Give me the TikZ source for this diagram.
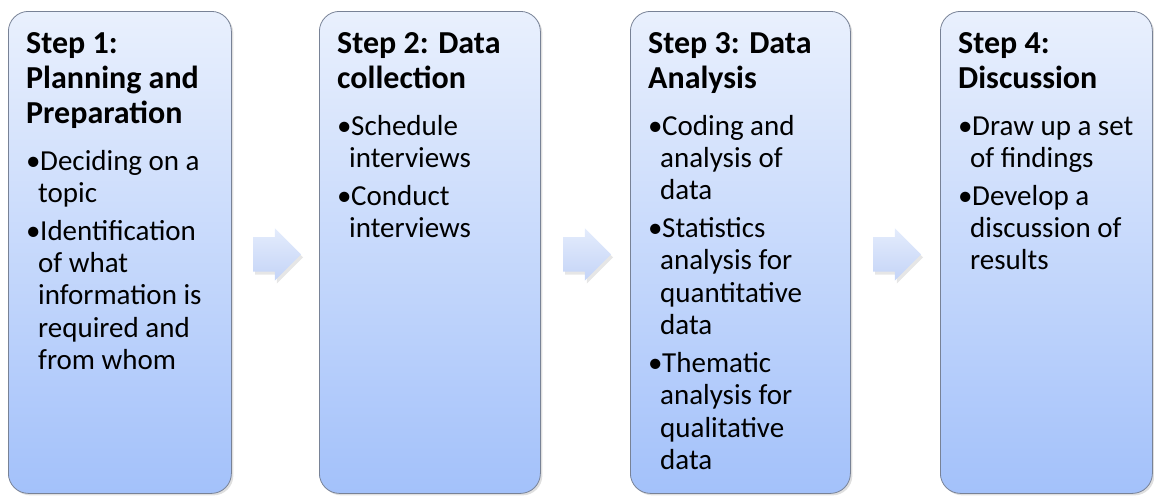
\documentclass[tikz,border=0pt]{standalone}
\usepackage{fontspec}
\setmainfont{Carlito}
\usetikzlibrary{shapes.arrows,shadows,calc}

\definecolor{boxtop}{RGB}{233,240,253}
\definecolor{boxbot}{RGB}{163,193,250}
\definecolor{boxline}{RGB}{120,130,150}
\definecolor{arrtop}{RGB}{228,236,252}
\definecolor{arrbot}{RGB}{196,212,247}

% title lines, then the bullet list of one step
\newcommand\steptext[2]{\parbox[t]{215pt}{\raggedright
  \fontsize{32}{35}\selectfont\bfseries #1\par
  \fontsize{29}{32.3}\selectfont\mdseries\vspace{9pt}#2}}
\newcommand\bitem{\par\vspace{5.7pt}\noindent\makebox[14pt][l]{•}}
\newcommand\cont{\\\hspace*{12pt}}

\tikzset{
  stepbox/.style={draw=boxline, line width=0.8pt, rounded corners=20pt,
    top color=boxtop, bottom color=boxbot, minimum height=482pt,
    anchor=north west, inner sep=0pt,
    drop shadow={shadow xshift=2pt, shadow yshift=-2pt, opacity=0.25}},
  steplabel/.style={anchor=base west, inner sep=0pt},
  flowarrow/.style={single arrow, single arrow head extend=9pt,
    inner xsep=0pt, inner ysep=17pt, minimum height=48pt, draw=none,
    anchor=tail, top color=arrtop, bottom color=arrbot,
    drop shadow={shadow xshift=2pt, shadow yshift=-3pt, opacity=0.2}}
}

\begin{document}
\begin{tikzpicture}[x=1pt,y=-1pt]
\useasboundingbox (0,0) rectangle (1154,496);

% the four step boxes
\node[stepbox, minimum width=223pt] (s1) at (8,11) {};
\node[stepbox, minimum width=221pt] (s2) at (319,11) {};
\node[stepbox, minimum width=220pt] (s3) at (630,11) {};
\node[stepbox, minimum width=212pt] (s4) at (940,11) {};

% their texts
\node[steplabel] (t1) at ($(s1.north west)+(18,42)$) {\steptext{Step 1:\\Planning and\\Preparation}{%
  \bitem Deciding on a\cont topic
  \bitem Identification\cont of what\cont information is\cont required and\cont from whom}};
\node[steplabel] (t2) at ($(s2.north west)+(18,42)$) {\steptext{Step 2: Data\\collection}{%
  \bitem Schedule\cont interviews
  \bitem Conduct\cont interviews}};
\node[steplabel] (t3) at ($(s3.north west)+(18,42)$) {\steptext{Step 3: Data\\Analysis}{%
  \bitem Coding and\cont analysis of\cont data
  \bitem Statistics\cont analysis for\cont quantitative\cont data
  \bitem Thematic\cont analysis for\cont qualitative\cont data}};
\node[steplabel] (t4) at ($(s4.north west)+(18,42)$) {\steptext{Step 4:\\Discussion}{%
  \bitem Draw up a set\cont of findings
  \bitem Develop a\cont discussion of\cont results}};

% block arrows between the steps
\node[flowarrow] (a1) at ($(s1.east)+(21,2)$) {};
\node[flowarrow] (a2) at ($(s2.east)+(22,2)$) {};
\node[flowarrow] (a3) at ($(s3.east)+(22,2)$) {};
\end{tikzpicture}
\end{document}
